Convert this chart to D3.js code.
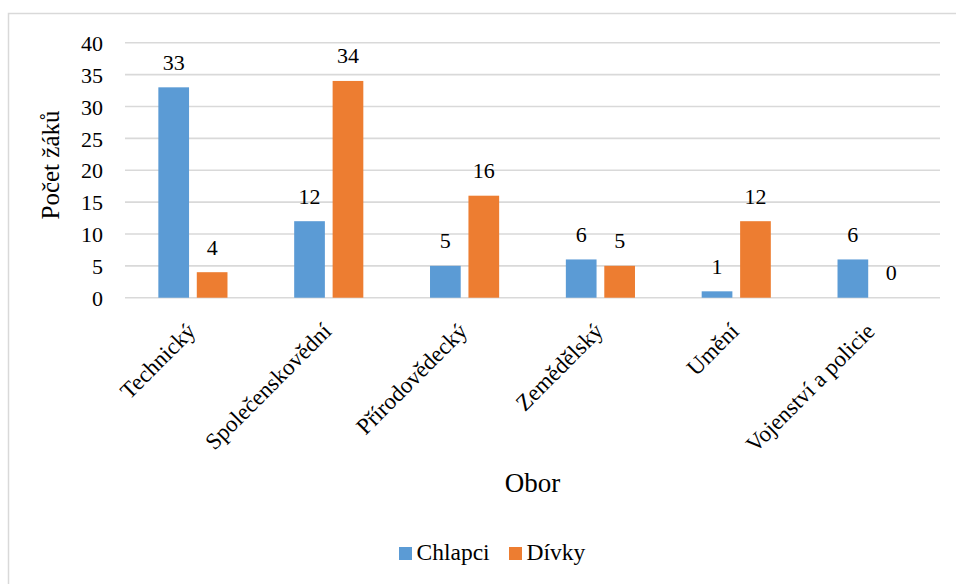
<!DOCTYPE html>
<html>
<head>
<meta charset="utf-8">
<script src="https://cdn.jsdelivr.net/npm/d3@7"></script>
</head>
<body style="margin:0;background:#fff">
<svg id="chart" width="956" height="584"></svg>
<script>
// Počet žáků podle oboru a pohlaví
const categories = ["Technický", "Společenskovědní", "Přírodovědecký", "Zemědělský", "Umění", "Vojenství a policie"];
const seriesNames = ["Chlapci", "Dívky"];
const chlapci = [33, 12, 5, 6, 1, 6];
const divky = [4, 34, 16, 5, 12, 0];
const yTicks = [0, 5, 10, 15, 20, 25, 30, 35, 40];
const colors = ["#5B9BD5", "#ED7D31"];

const FONT = "'Liberation Serif', 'Times New Roman', Times, serif";
const svg = d3.select("#chart");
const W = 956, H = 584;
const plot = { left: 125, right: 940, top: 42.7, bottom: 297.7 };

const txt = (sel, size) => sel.style("font-family", FONT).style("font-size", size + "px").style("fill", "#000");

// chart frame
svg.append("rect")
  .attr("x", 8.5).attr("y", 13.5)
  .attr("width", W + 20).attr("height", H + 20)
  .attr("fill", "#fff").attr("stroke", "#d9d9d9").attr("stroke-width", 1.5);

const x0 = d3.scaleBand().domain(categories).range([plot.left, plot.right]);
const y = d3.scaleLinear().domain([0, 40]).range([plot.bottom, plot.top]);

// horizontal gridlines
svg.append("g").selectAll("line").data(yTicks).join("line")
  .attr("x1", plot.left).attr("x2", plot.right)
  .attr("y1", d => y(d)).attr("y2", d => y(d))
  .attr("stroke", "#d9d9d9").attr("stroke-width", 1.6);

// y axis labels
const yAxis = d3.axisLeft(y).tickValues(yTicks).tickSize(0).tickPadding(0);
const gy = svg.append("g").attr("transform", `translate(${plot.left - 22},0)`).call(yAxis);
gy.select(".domain").remove();
gy.attr("font-family", null).attr("font-size", null);
txt(gy.selectAll("text"), 22).attr("dy", "0.35em");

// bars
const groupW = x0.bandwidth();
const barW = groupW * 0.226;
const gap = groupW * 0.057;
const rows = categories.map((c, i) => [
  { cat: c, s: 0, v: chlapci[i] },
  { cat: c, s: 1, v: divky[i] }
]).flat();
const barX = d => x0(d.cat) + groupW / 2 + (d.s === 0 ? -gap / 2 - barW : gap / 2);

svg.append("g").selectAll("rect").data(rows).join("rect")
  .attr("x", barX)
  .attr("y", d => y(d.v))
  .attr("width", barW)
  .attr("height", d => y(0) - y(d.v))
  .attr("fill", d => colors[d.s]);

// value labels
txt(svg.append("g").selectAll("text").data(rows).join("text"), 22)
  .attr("x", d => barX(d) + barW / 2)
  .attr("y", d => y(d.v) - 17.5)
  .attr("text-anchor", "middle")
  .text(d => d.v);

// category labels, rotated
txt(svg.append("g").selectAll("text").data(categories).join("text"), 23)
  .attr("transform", d => `translate(${x0(d) + groupW / 2 + 4},${plot.bottom + 35}) rotate(-45)`)
  .attr("text-anchor", "end")
  .text(d => d);

// axis titles
txt(svg.append("text"), 25)
  .attr("transform", `translate(58.5,165) rotate(-90)`)
  .attr("text-anchor", "middle")
  .text("Počet žáků");

txt(svg.append("text"), 27)
  .attr("x", 532.5).attr("y", 491.5)
  .attr("text-anchor", "middle")
  .text("Obor");

// legend
const legend = svg.append("g").attr("transform", "translate(399,547)");
const items = [{ name: seriesNames[0], x: 0 }, { name: seriesNames[1], x: 110 }];
items.forEach((it, i) => {
  legend.append("rect").attr("x", it.x).attr("y", 0).attr("width", 13).attr("height", 13).attr("fill", colors[i]);
  txt(legend.append("text"), 23.5).attr("x", it.x + 17.5).attr("y", 13).text(it.name);
});
</script>
</body>
</html>
